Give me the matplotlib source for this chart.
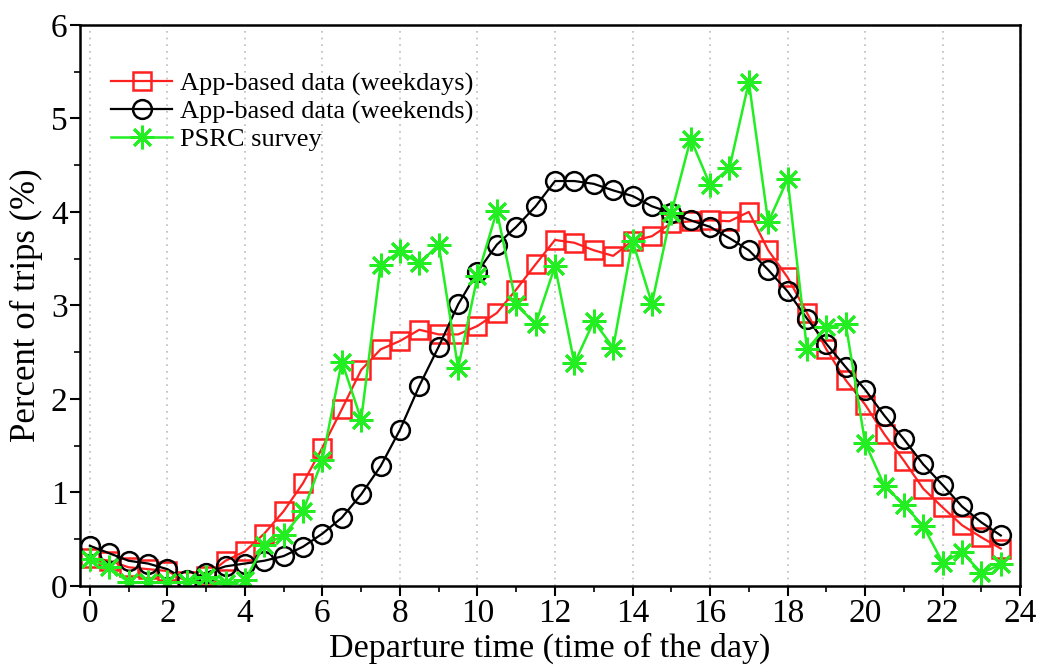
import matplotlib.pyplot as plt
import numpy as np
from matplotlib.ticker import MultipleLocator

plt.rcParams['font.family'] = ['Liberation Serif', 'DejaVu Serif']

hours = np.arange(0, 24, 0.5)

weekdays = [0.30, 0.27, 0.20, 0.18, 0.16, 0.05, 0.11, 0.27, 0.37, 0.56,
            0.80, 1.10, 1.48, 1.89, 2.31, 2.53, 2.62, 2.74, 2.69, 2.69,
            2.78, 2.92, 3.17, 3.44, 3.70, 3.67, 3.59, 3.53, 3.69, 3.74,
            3.88, 3.90, 3.91, 3.90, 4.00, 3.59, 3.30, 2.92, 2.53, 2.20,
            1.94, 1.62, 1.34, 1.04, 0.84, 0.65, 0.52, 0.40]

weekends = [0.43, 0.35, 0.27, 0.24, 0.18, 0.06, 0.14, 0.21, 0.24, 0.27,
            0.32, 0.42, 0.56, 0.73, 0.98, 1.28, 1.67, 2.14, 2.56, 3.01,
            3.36, 3.65, 3.84, 4.06, 4.33, 4.33, 4.30, 4.23, 4.17, 4.06,
            3.99, 3.91, 3.84, 3.72, 3.59, 3.38, 3.15, 2.86, 2.59, 2.34,
            2.10, 1.82, 1.57, 1.30, 1.08, 0.85, 0.68, 0.54]

psrc = [0.29, 0.20, 0.04, 0.04, 0.04, 0.04, 0.10, 0.03, 0.06, 0.44,
        0.54, 0.80, 1.35, 2.40, 1.78, 3.43, 3.58, 3.45, 3.65, 2.33,
        3.31, 4.01, 3.01, 2.80, 3.42, 2.38, 2.83, 2.55, 3.69, 3.02,
        3.99, 4.78, 4.29, 4.47, 5.39, 3.89, 4.35, 2.53, 2.77, 2.80,
        1.53, 1.07, 0.87, 0.64, 0.25, 0.36, 0.14, 0.23]

fig = plt.figure(figsize=(10.41, 6.72), dpi=100)
ax = fig.add_axes([0.077, 0.128, 0.903, 0.835])

ax.plot(hours, weekdays, color='#ff2020', lw=1.6, marker='s', ms=12.5,
        mfc='none', mec='#ff2020', mew=1.8, label='App-based data (weekdays)')
ax.plot(hours, weekends, color='black', lw=1.6, marker='o', ms=13.5,
        mfc='none', mec='black', mew=1.8, label='App-based data (weekends)')
ax.plot(hours, psrc, color='#22ee22', lw=1.8, marker=(8, 2, 0), ms=17,
        mec='#22ee22', mew=2.0, label='PSRC survey')

ax.set_xlim(-0.25, 24)
ax.set_ylim(0, 6)
ax.xaxis.set_major_locator(MultipleLocator(2))
ax.xaxis.set_minor_locator(MultipleLocator(1))
ax.yaxis.set_major_locator(MultipleLocator(1))
ax.yaxis.set_minor_locator(MultipleLocator(0.5))
ax.tick_params(which='major', direction='out', length=7, width=1.5, labelsize=24, pad=2)
ax.tick_params(which='minor', direction='out', length=4, width=1.2)
ax.grid(axis='x', which='major', ls=(0, (1, 3)), color='#bbbbbb', lw=1.2)
for s in ax.spines.values():
    s.set_linewidth(1.8)

ax.set_xlabel('Departure time (time of the day)', fontsize=24.5, labelpad=3)
ax.set_ylabel('Percent of trips (%)', fontsize=25, labelpad=6)

ax.legend(loc='upper left', bbox_to_anchor=(0.022, 0.935), frameon=False,
          fontsize=19, handlelength=2.3, handletextpad=0.3, labelspacing=0.15,
          borderaxespad=0)

fig.savefig('out.png', dpi=100)
